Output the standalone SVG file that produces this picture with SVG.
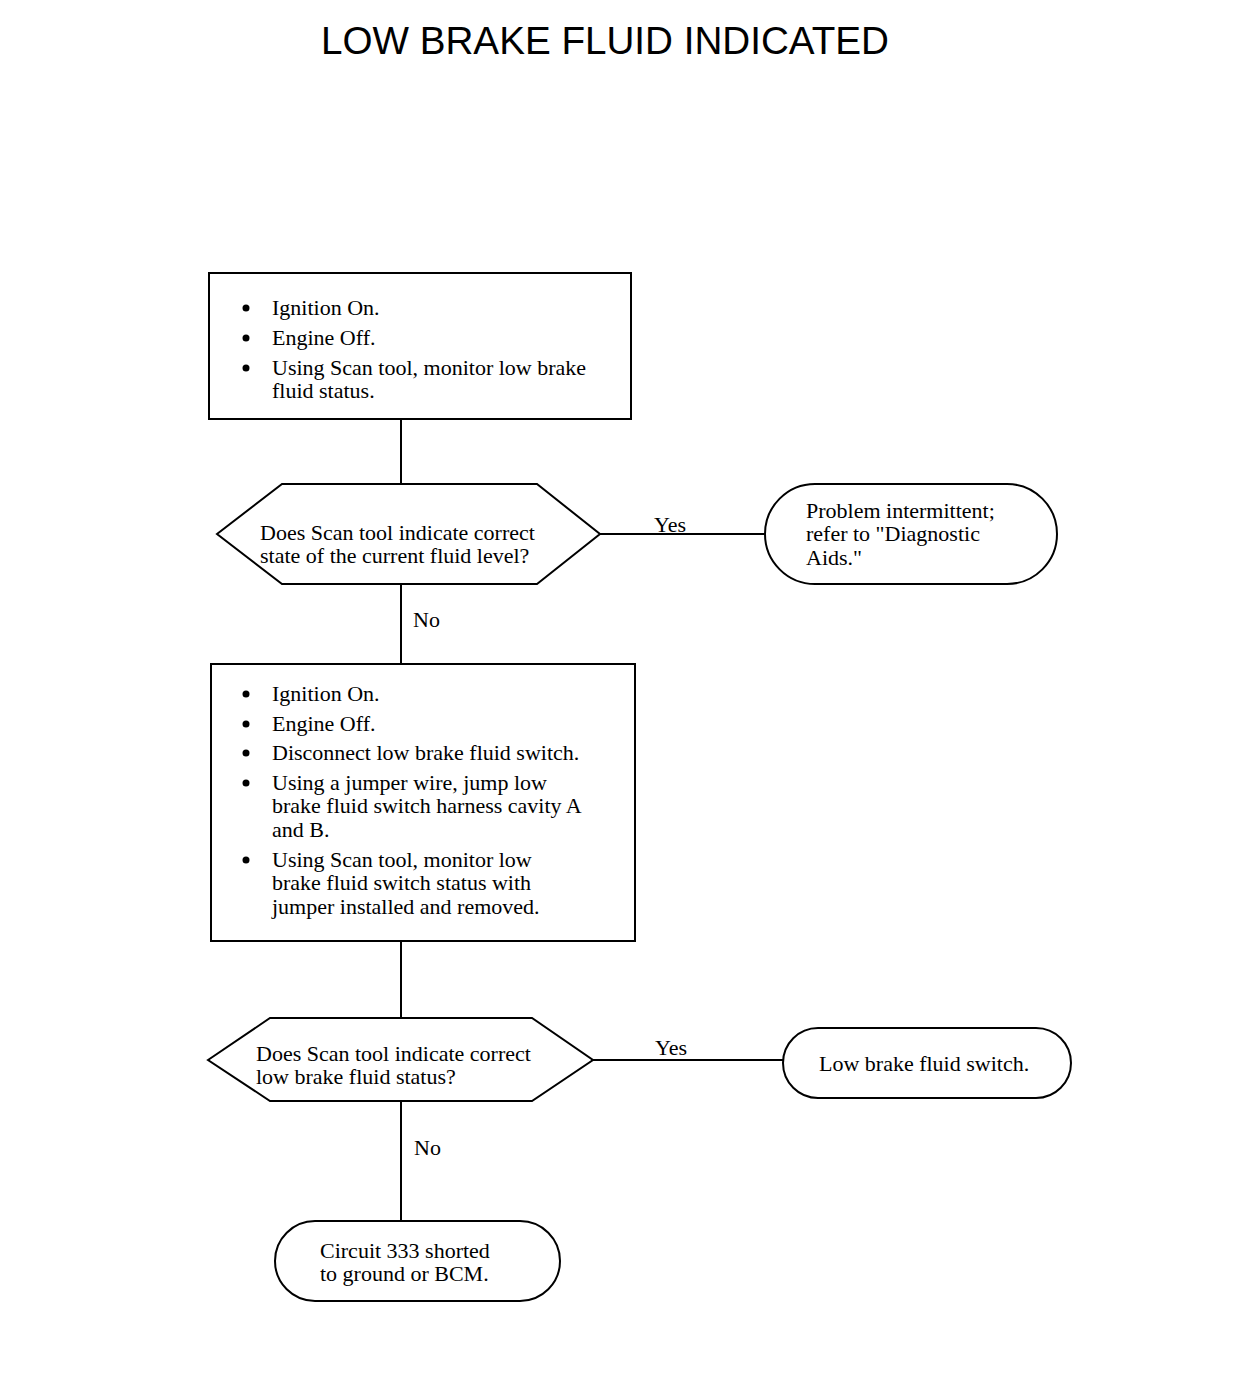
<svg xmlns="http://www.w3.org/2000/svg" width="1248" height="1374" viewBox="0 0 1248 1374">
<style>
.s{fill:#fff;stroke:#000;stroke-width:2}
.c{fill:none;stroke:#000;stroke-width:2}
.t{font-family:"Liberation Serif","Times New Roman",serif;font-size:22px;fill:#000}
.b{fill:#000}
.title{font-family:"Liberation Sans",Arial,sans-serif;font-size:38px;fill:#000}
</style>
<rect width="1248" height="1374" fill="#fff"/>
<text class="title" x="321" y="54" textLength="568" lengthAdjust="spacingAndGlyphs">LOW BRAKE FLUID INDICATED</text>
<g id="connectors">
<line class="c" x1="401" y1="419" x2="401" y2="484"/>
<line class="c" x1="600" y1="534" x2="765" y2="534"/>
<text class="t" x="654" y="532">Yes</text>
<line class="c" x1="401" y1="584" x2="401" y2="664"/>
<text class="t" x="413" y="627">No</text>
<line class="c" x1="401" y1="941" x2="401" y2="1018"/>
<line class="c" x1="593" y1="1060" x2="783" y2="1060"/>
<text class="t" x="655" y="1055">Yes</text>
<line class="c" x1="401" y1="1101" x2="401" y2="1221"/>
<text class="t" x="414" y="1155">No</text>
</g>
<g id="box1">
<rect class="s" x="209" y="273" width="422" height="146"/>
<circle class="b" cx="246" cy="308" r="3.5"/>
<circle class="b" cx="246" cy="338" r="3.5"/>
<circle class="b" cx="246" cy="368" r="3.5"/>
<text class="t" x="272" y="315">Ignition On.</text>
<text class="t" x="272" y="345">Engine Off.</text>
<text class="t" x="272" y="375">Using Scan tool, monitor low brake</text>
<text class="t" x="272" y="398">fluid status.</text>
</g>
<g id="decision1">
<polygon class="s" points="217,534 282,484 537,484 600,534 537,584 282,584"/>
<text class="t" x="260" y="540">Does Scan tool indicate correct</text>
<text class="t" x="260" y="563">state of the current fluid level?</text>
</g>
<g id="end1">
<rect class="s" x="765" y="484" width="292" height="100" rx="50" ry="50"/>
<text class="t" x="806" y="518">Problem intermittent;</text>
<text class="t" x="806" y="541">refer to "Diagnostic</text>
<text class="t" x="806" y="565">Aids."</text>
</g>
<g id="box2">
<rect class="s" x="211" y="664" width="424" height="277"/>
<circle class="b" cx="246" cy="694" r="3.5"/>
<circle class="b" cx="246" cy="724" r="3.5"/>
<circle class="b" cx="246" cy="753" r="3.5"/>
<circle class="b" cx="246" cy="783" r="3.5"/>
<circle class="b" cx="246" cy="860" r="3.5"/>
<text class="t" x="272" y="701">Ignition On.</text>
<text class="t" x="272" y="731">Engine Off.</text>
<text class="t" x="272" y="760">Disconnect low brake fluid switch.</text>
<text class="t" x="272" y="790">Using a jumper wire, jump low</text>
<text class="t" x="272" y="813">brake fluid switch harness cavity A</text>
<text class="t" x="272" y="837">and B.</text>
<text class="t" x="272" y="867">Using Scan tool, monitor low</text>
<text class="t" x="272" y="890">brake fluid switch status with</text>
<text class="t" x="272" y="914">jumper installed and removed.</text>
</g>
<g id="decision2">
<polygon class="s" points="208,1060 270,1018 532,1018 593,1060 532,1101 270,1101"/>
<text class="t" x="256" y="1061">Does Scan tool indicate correct</text>
<text class="t" x="256" y="1084">low brake fluid status?</text>
</g>
<g id="end2">
<rect class="s" x="783" y="1028" width="288" height="70" rx="35" ry="35"/>
<text class="t" x="819" y="1071">Low brake fluid switch.</text>
</g>
<g id="end3">
<rect class="s" x="275" y="1221" width="285" height="80" rx="40" ry="40"/>
<text class="t" x="320" y="1258">Circuit 333 shorted</text>
<text class="t" x="320" y="1281">to ground or BCM.</text>
</g>
</svg>
